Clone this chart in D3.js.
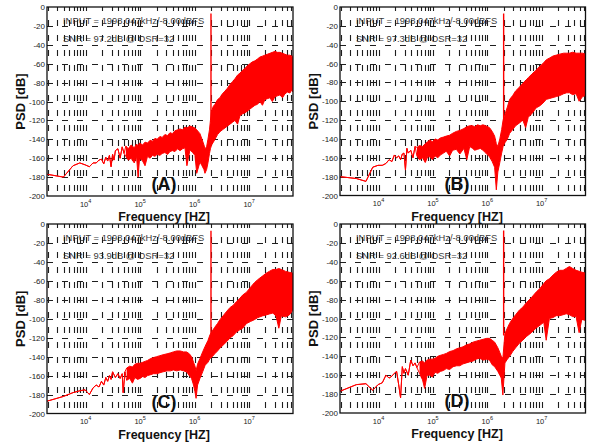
<!DOCTYPE html>
<html><head><meta charset="utf-8">
<script src="https://cdn.jsdelivr.net/npm/d3@7"></script>
<style>html,body{margin:0;padding:0;background:#fff;} svg{display:block;font-family:"Liberation Sans",Arial,sans-serif;}</style>
</head><body><svg id="c" width="592" height="447"></svg>
<script>
// ---------- data ----------
const binHz = 1953.125;          // FFT bin width
const lastBin = 32768;           // fs/2
const toneBin = 1023;            // 1998.047 kHz
const toneDb = -7;
const toneBaseDb = [-122, -120, -117, -118];
const yTickValues = [0, -20, -40, -60, -80, -100, -120, -140, -160, -180, -200];
const xLabelExps = [4, 5, 6, 7];
const panelNames = ["(A)", "(B)", "(C)", "(D)"];
const inputText = "INPUT = 1998.047kHz/-8.00dBFS";
const snrValues = ["97.2", "97.3", "93.9", "92.6"];
const osrValue = 32;

// Panel A
const lineBinsA = [1,2,3,4,5,6,7,8,9,10,11,12,13,14,15,16,17,18,20,22,24,26];
const lineDbA = [-177,-180,-168,-165,-167,-169,-165,-165,-162,-161,-166,-159,-163,-157,-169,-156,-162,-152,-150,-160,-148,-155];
const bandBinsA = [28,31,35,40,44,47,50,57,63,70,78,86,96,105,118,130,146,163,181,200,223,250,276,308,341,370,421,470,520,560,642,700,760,793,850,900,960,1000,1050,1130,1211,1350,1494,1650,1846,2050,2280,2540,2818,3150,3478,3900,4298,4800,5309,5900,6556,7300,8090,9000,10000,11100,12360,13700,15250,17000,18840,21000,23270,25800,28740,31000,32768];
const bandHiA = [-147,-150,-146,-149,-145,-147,-144,-146,-143,-144,-141,-142,-139,-140,-137,-138,-135,-136,-133,-134,-131,-130,-129,-130,-127,-128,-126,-127,-128,-130,-134,-140,-146,-150,-148,-140,-130,-120,-110,-105,-103,-98,-96,-92,-89,-86,-82,-79,-76,-72,-70,-67,-65,-62,-60,-58,-57,-55,-53,-52,-51,-50,-49,-48,-47,-48,-48,-49,-50,-51,-51,-52,-52];
const bandLoA = [-158,-162,-160,-165,-158,-180,-160,-163,-168,-158,-160,-157,-158,-156,-157,-155,-154,-156,-153,-152,-153,-150,-152,-150,-149,-168,-151,-154,-157,-176,-164,-168,-172,-176,-172,-165,-155,-150,-146,-143,-140,-135,-132,-130,-128,-126,-124,-122,-120,-124,-115,-113,-112,-110,-108,-106,-104,-103,-100,-104,-98,-97,-96,-100,-95,-94,-93,-96,-92,-90,-91,-88,-90];

// Panel B
const lineBinsB = [1,2,3,4,5,6,7,8,9,10,11,12,13,14,15,16,17,18,20,22,24];
const lineDbB = [-180,-182,-185,-170,-168,-168,-166,-162,-164,-157,-160,-158,-162,-156,-155,-173,-150,-155,-152,-160,-148];
const bandBinsB = [26,29,33,37,41,45,50,56,63,70,80,90,104,118,138,160,190,215,243,275,300,340,380,425,480,562,630,698,750,800,870,940,1000,1080,1200,1320,1500,1700,2000,2300,2600,2900,3400,4060,4700,5400,6240,7200,8300,9570,11000,13000,14800,16600,19000,22000,25000,29000,32768];
const bandHiB = [-149,-147,-148,-145,-143,-141,-143,-140,-141,-139,-138,-137,-136,-134,-132,-131,-129,-127,-126,-126,-127,-125,-126,-125,-126,-128,-132,-137,-145,-148,-140,-130,-120,-114,-106,-98,-94,-89,-85,-81,-78,-75,-71,-67,-63,-60,-56,-54,-52,-51,-50,-49,-49,-49,-48,-49,-49,-49,-50];
const bandLoB = [-158,-162,-160,-165,-159,-159,-162,-158,-160,-157,-155,-153,-158,-152,-151,-156,-150,-162,-148,-150,-152,-151,-150,-152,-155,-159,-164,-170,-194,-175,-165,-155,-148,-144,-140,-134,-130,-126,-123,-120,-128,-117,-113,-107,-105,-102,-98,-97,-96,-95,-94,-92,-91,-91,-93,-92,-100,-95,-94];

// Panel C
const lineBinsC = [1,2,3,4,5,6,7,8,9,10,11,12,13,14,15,16,18,20,22,24,25,27];
const lineDbC = [-187,-182,-178,-176,-175,-180,-173,-170,-172,-166,-170,-162,-166,-160,-164,-156,-162,-158,-163,-158,-178,-156];
const bandBinsC = [29,33,37,41,46,51,57,63,70,80,90,103,118,135,160,185,208,240,280,320,365,410,450,490,520,545,580,642,720,800,900,980,1080,1200,1350,1494,1700,2000,2300,2600,3000,3400,3900,4600,5400,6400,7300,8090,9000,10500,12000,14000,16000,18000,20000,24000,28000,32768];
const bandHiC = [-152,-150,-151,-148,-147,-147,-146,-145,-144,-142,-141,-140,-139,-138,-137,-136,-135,-134,-134,-135,-135,-137,-140,-146,-150,-155,-148,-142,-135,-129,-123,-117,-113,-109,-105,-101,-97,-92,-88,-86,-82,-79,-75,-72,-67,-62,-59,-57,-55,-52,-50,-48,-48,-47,-48,-50,-51,-52];
const bandLoC = [-165,-163,-168,-162,-164,-163,-161,-162,-160,-159,-158,-158,-157,-156,-155,-155,-154,-155,-154,-155,-156,-160,-163,-170,-177,-184,-170,-163,-156,-149,-146,-142,-140,-137,-134,-131,-128,-124,-120,-118,-114,-112,-110,-105,-103,-101,-99,-98,-97,-96,-95,-94,-97,-110,-97,-98,-96,-91];

// Panel D
const lineBinsD = [1,2,3,4,5,6,7,8,9,10,11,12,13,14,15,16,18,20,22,24,26];
const lineDbD = [-177,-170,-169,-176,-170,-168,-160,-163,-161,-158,-156,-170,-184,-151,-158,-153,-160,-144,-150,-147,-152];
const bandBinsD = [29,33,36,40,45,50,56,63,70,80,90,104,120,140,160,183,210,240,280,320,370,430,500,562,630,700,800,870,925,990,1080,1200,1320,1500,1700,2000,2300,2700,3300,4060,4800,5600,6200,7100,8300,9500,11000,12700,14500,16600,19000,22000,25000,28000,32768];
const bandHiD = [-146,-145,-147,-144,-143,-143,-142,-140,-139,-138,-137,-135,-134,-132,-131,-130,-128,-127,-125,-124,-123,-122,-121,-121,-123,-125,-131,-136,-140,-142,-116,-110,-105,-100,-96,-91,-88,-83,-78,-72,-68,-63,-60,-58,-54,-51,-49,-49,-47,-45,-47,-49,-50,-51,-52];
const bandLoD = [-158,-165,-174,-160,-160,-162,-157,-158,-156,-155,-153,-154,-151,-150,-150,-148,-147,-146,-145,-143,-142,-144,-143,-144,-149,-151,-156,-160,-163,-181,-147,-143,-140,-135,-131,-126,-123,-119,-115,-110,-107,-104,-123,-100,-99,-97,-97,-96,-95,-96,-98,-98,-115,-101,-102];

// ---------- layout ----------
const panels = [
  {left: 47, right: 293, top: 7, bottom: 196, lineBins: lineBinsA, lineDb: lineDbA, bins: bandBinsA, hi: bandHiA, lo: bandLoA},
  {left: 340, right: 585.5, top: 7, bottom: 195.5, lineBins: lineBinsB, lineDb: lineDbB, bins: bandBinsB, hi: bandHiB, lo: bandLoB},
  {left: 47, right: 293, top: 224, bottom: 413.5, lineBins: lineBinsC, lineDb: lineDbC, bins: bandBinsC, hi: bandHiC, lo: bandLoC},
  {left: 340, right: 585.5, top: 224, bottom: 413, lineBins: lineBinsD, lineDb: lineDbD, bins: bandBinsD, hi: bandHiD, lo: bandLoD}
];

const svg = d3.select("#c");
const red = "#ff0000";
const gridColor = "#1e1e1e";

panels.forEach((p, i) => {
  const g = svg.append("g");
  const x = d3.scaleLog().domain([binHz, lastBin * binHz]).range([p.left, p.right]);
  const y = d3.scaleLinear().domain([-200, 0]).range([p.bottom, p.top]);
  const clipId = "clip" + i;
  svg.append("clipPath").attr("id", clipId).append("rect")
    .attr("x", p.left).attr("y", p.top).attr("width", p.right - p.left).attr("height", p.bottom - p.top);

  // annotation texts (under grid)
  g.append("text").attr("x", p.left + 16).attr("y", p.top + 17)
    .attr("font-size", "9.4px").attr("fill", "#3a3a3a").text(inputText);
  g.append("text").attr("x", p.left + 16).attr("y", p.top + 35)
    .attr("font-size", "9.4px").attr("fill", "#3a3a3a").text("SNR = " + snrValues[i] + "dB @ OSR=" + osrValue);

  // vertical grid (log minor ticks)
  const xt = x.ticks().filter(t => t > binHz * 1.01 && t < lastBin * binHz * 0.99);
  g.selectAll("line.vg").data(xt).join("line")
    .attr("x1", d => Math.round(x(d)) + 0.5).attr("x2", d => Math.round(x(d)) + 0.5)
    .attr("y1", p.top).attr("y2", p.bottom)
    .attr("stroke", gridColor).attr("stroke-width", 1.1)
    .attr("stroke-dasharray", "6,9").attr("stroke-dashoffset", 2);
  // horizontal grid
  const yt = yTickValues.filter(v => v > -200 && v < 0);
  g.selectAll("line.hg").data(yt).join("line")
    .attr("x1", p.left).attr("x2", p.right)
    .attr("y1", d => Math.round(y(d)) + 0.5).attr("y2", d => Math.round(y(d)) + 0.5)
    .attr("stroke", gridColor).attr("stroke-width", 1.1)
    .attr("stroke-dasharray", "6,9");

  // spectrum
  const data = p.bins.map((b, k) => ({b: b, hi: p.hi[k], lo: p.lo[k]}));
  const lineData = p.lineBins.map((b, k) => ({b: b, hi: p.lineDb[k], lo: p.lineDb[k]}));
  const all = lineData.concat(data);
  const cg = g.append("g").attr("clip-path", "url(#" + clipId + ")");
  cg.append("path").datum(data)
    .attr("d", d3.area().x(d => x(d.b * binHz)).y0(d => y(d.lo)).y1(d => y(d.hi)))
    .attr("fill", red).attr("stroke", "none");
  const ln = (acc) => d3.line().x(d => x(d.b * binHz)).y(d => y(acc(d)));
  cg.append("path").datum(all).attr("d", ln(d => d.hi)).attr("fill", "none").attr("stroke", red).attr("stroke-width", 1);
  cg.append("path").datum(all).attr("d", ln(d => d.lo)).attr("fill", "none").attr("stroke", red).attr("stroke-width", 1);
  // tone
  cg.append("line")
    .attr("x1", x(toneBin * binHz)).attr("x2", x(toneBin * binHz))
    .attr("y1", y(toneBaseDb[i])).attr("y2", y(toneDb))
    .attr("stroke", red).attr("stroke-width", 1.4);

  // panel name
  g.append("text").attr("x", p.left + 117).attr("y", p.bottom - 6)
    .attr("text-anchor", "middle").attr("font-size", "18px").attr("font-weight", "bold").attr("fill", "#111")
    .text(panelNames[i]);

  // box
  g.append("rect").attr("x", p.left).attr("y", p.top).attr("width", p.right - p.left).attr("height", p.bottom - p.top)
    .attr("fill", "none").attr("stroke", "#111").attr("stroke-width", 1.3);

  // y tick labels
  g.selectAll("text.yl").data(yTickValues).join("text")
    .attr("x", p.left - 2).attr("y", d => y(d) + 3)
    .attr("text-anchor", "end").attr("font-size", "8px").attr("fill", "#222")
    .text(d => d);

  // x tick labels
  xLabelExps.forEach(e => {
    const t = g.append("text").attr("x", x(Math.pow(10, e))).attr("y", p.bottom + 10.5)
      .attr("text-anchor", "middle").attr("font-size", "7.5px").attr("fill", "#222");
    t.append("tspan").text("10");
    t.append("tspan").attr("dy", -4).attr("font-size", "5.5px").text(e);
  });

  // axis labels
  g.append("text")
    .attr("transform", "translate(" + (p.left - 27) + "," + ((p.top + p.bottom) / 2) + ") rotate(-90)")
    .attr("text-anchor", "middle").attr("dy", "0.35em")
    .attr("font-size", "13px").attr("font-weight", "bold").attr("fill", "#111").text("PSD [dB]");
  const xl = g.append("g");
  const tw = 142;
  xl.append("rect").attr("x", p.left + 117 - tw / 2).attr("y", p.bottom + 14).attr("width", tw).attr("height", 14.3)
    .attr("fill", "#fff");
  xl.append("text").attr("x", p.left + 117).attr("y", p.bottom + 25)
    .attr("text-anchor", "middle").attr("font-size", "12.5px").attr("font-weight", "bold").attr("fill", "#111")
    .text("Frequency [HZ]");
});
</script></body></html>
